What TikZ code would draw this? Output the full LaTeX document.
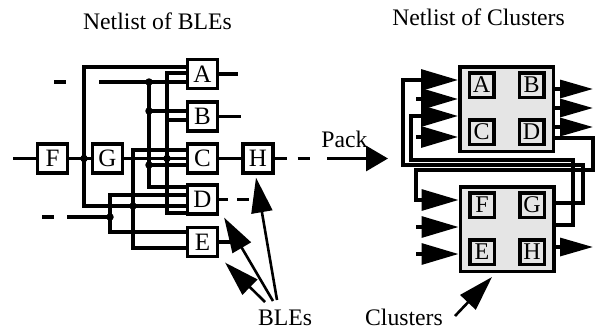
\documentclass[tikz,border=0pt]{standalone}
\usepackage{fontspec}
\setmainfont{Liberation Serif}
\usetikzlibrary{arrows.meta,calc}
\begin{document}
\begin{tikzpicture}[x=1pt,y=-1pt,
  wire/.style={line width=3.2pt},
  ble/.style={draw,line width=3.2pt,minimum width=30pt,minimum height=29pt,inner sep=0pt,font=\fontsize{25}{26}\selectfont},
  clus/.style={draw,line width=3.5pt,fill=black!10,minimum width=93.5pt,minimum height=84.5pt,inner sep=0pt},
  cble/.style={draw,line width=3.5pt,fill=black!10,minimum size=24.5pt,inner sep=0pt,font=\fontsize{24}{25}\selectfont},
  jdot/.style={circle,fill,inner sep=0pt,minimum size=7.5pt},
  inarr/.style={line width=3.2pt,-{Triangle[length=37pt,width=21pt]}},
  outarr/.style={line width=3.2pt,-{Triangle[length=33pt,width=18pt]}},
  ptr/.style={line width=2.6pt,-{Triangle[length=35pt,width=21pt]}},
  packarr/.style={line width=3.2pt,-{Triangle[length=22pt,width=25pt]}},
  lbl/.style={inner sep=0pt,anchor=base,font=\fontsize{23.7}{25}\selectfont}
]
\useasboundingbox (0,0) rectangle (597,333);

% ---------- titles and labels
\node[lbl] (t1) at (157.5,29) {Netlist of BLEs};
\node[lbl] (t2) at (478.5,25) {Netlist of Clusters};
\node[lbl] (pack) at (344.5,147) {Pack};
\node[lbl] (bles) at (285,325) {BLEs};
\node[lbl] (clusters) at (404,325) {Clusters};

% ---------- left netlist
\node[ble] (A) at (202.5,74) {A};
\node[ble] (B) at (202.5,116.5) {B};
\node[ble] (C) at (202.5,158.5) {C};
\node[ble] (D) at (202.5,199.5) {D};
\node[ble] (E) at (202.5,242) {E};
\node[ble] (F) at (52.5,158.5) {F};
\node[ble] (G) at (107.5,158.5) {G};
\node[ble] (H) at (258,158.5) {H};

\coordinate (fin) at (13,158.5);
\coordinate (fdot) at (84,158.5);
\coordinate (gdot) at (167,158.5);
\coordinate (d133) at (133,206);
\coordinate (tin) at (54,82);
\coordinate (tdot) at (149,82);
\coordinate (bdot1) at (149,111);
\coordinate (cdot1) at (149,165);
\coordinate (g120) at (167,120);
\coordinate (bin) at (42,217);
\coordinate (bdot) at (110,217);
\coordinate (aout) at (238,74);
\coordinate (bout) at (241,116.5);
\coordinate (dout) at (249,199.5);
\coordinate (eout) at (230,242);
\coordinate (hout) at (310,158.5);
\coordinate (pk1) at (327,158.5);
\coordinate (pk2) at (388,158.5);

\draw[wire] (fin) -- (F.west);
\draw[wire] (F.east) -- (G.west);
\draw[wire] ($(A.west)+(0,-7)$) -| (fdot) |- ($(D.west)+(0,6.5)$);
\draw[wire] ($(C.west)+(0,-8.5)$) -| (d133) |- ($(E.west)+(0,6)$);
\draw[wire,dash pattern=on 12pt off 33pt on 300pt] (tin) -- ($(A.west)+(0,8)$);
\draw[wire] (tdot) |- ($(D.west)+(0,-12.5)$);
\draw[wire] (bdot1) -- (B.west |- bdot1);
\draw[wire] (cdot1) -- (C.west |- cdot1);
\draw[wire] (G.east) -- (C.west);
\draw[wire] ($(A.west)+(0,-1)$) -| (gdot) |- ($(D.west)+(0,13.5)$);
\draw[wire] (g120) -- (B.west |- g120);
\draw[wire,dash pattern=on 12pt off 13pt on 300pt] (bin) -- (bdot);
\draw[wire] ($(D.west)+(0,-4.5)$) -| (bdot) |- ($(E.west)+(0,-10)$);

\node[jdot] at (fdot) {};
\node[jdot] at (gdot) {};
\node[jdot] at (d133) {};
\node[jdot] at (tdot) {};
\node[jdot] at (bdot1) {};
\node[jdot] at (cdot1) {};
\node[jdot] at (bdot) {};

\draw[wire] (A.east) -- (aout);
\draw[wire] (B.east) -- (bout);
\draw[wire] (C.east) -- (H.west);
\draw[wire,dash pattern=on 12pt off 11pt on 12pt off 40pt] (H.east) -- (hout);
\draw[packarr] (pk1) -- (pk2);
\draw[wire,dash pattern=on 9pt off 9pt on 40pt] (D.east) -- (dout);
\draw[wire] (E.east) -- (eout);

% pointers from BLEs
\coordinate (p1) at (277,300);
\coordinate (p2) at (273,301);
\coordinate (p3) at (265,302);
\draw[ptr] (p1) -- ($(H.south)+(-2,3)$);
\draw[ptr] (p2) -- ($(D.south east)+(5,2)$);
\draw[ptr] (p3) -- ($(E.south east)+(6,4.5)$);

% ---------- clusters
\node[clus] (K1) at (506.5,109) {};
\node[clus] (K2) at (507,229) {};
\node[cble] (cA) at ($(K1)+(-25,-24)$) {A};
\node[cble] (cB) at ($(K1)+(25,-24)$) {B};
\node[cble] (cC) at ($(K1)+(-25,23)$) {C};
\node[cble] (cD) at ($(K1)+(25,23)$) {D};
\node[cble] (cF) at ($(K2)+(-25,-24)$) {F};
\node[cble] (cG) at ($(K2)+(25,-24)$) {G};
\node[cble] (cE) at ($(K2)+(-25,23)$) {E};
\node[cble] (cH) at ($(K2)+(25,23)$) {H};

\coordinate (lA1) at (583,165);
\coordinate (lA2) at (403,80);
\coordinate (lB1) at (573,160);
\coordinate (lB2) at (411,116);
\coordinate (lC1) at (593,170);
\coordinate (lC2) at (416,200);
\coordinate (s1) at (416,99);
\coordinate (s2) at (416,137);
\coordinate (s3) at (416,227);
\coordinate (s4) at (416,254);
\coordinate (o1) at (593,89);
\coordinate (o2) at (593,108);
\coordinate (o3) at (593,127);
\coordinate (o4) at (593,247);

\draw[inarr] ($(K2.east)+(0,-26)$) -| (lA1) -| (lA2) -- (K1.west |- lA2);
\draw[inarr] ($(K2.east)+(0,-4)$) -| (lB1) -| (lB2) -- (K1.west |- lB2);
\draw[inarr] ($(K1.east)+(0,29)$) -| (lC1) -| (lC2) -- (K2.west |- lC2);
\draw[inarr] (s1) -- (K1.west |- s1);
\draw[inarr] (s2) -- (K1.west |- s2);
\draw[inarr] (s3) -- (K2.west |- s3);
\draw[inarr] (s4) -- (K2.west |- s4);
\draw[outarr] (K1.east |- o1) -- (o1);
\draw[outarr] (K1.east |- o2) -- (o2);
\draw[outarr] (K1.east |- o3) -- (o3);
\draw[outarr] (K2.east |- o4) -- (o4);

\coordinate (p4) at (455,316);
\draw[ptr] (p4) -- ($(K2.south)+(-15,4)$);
\end{tikzpicture}
\end{document}
